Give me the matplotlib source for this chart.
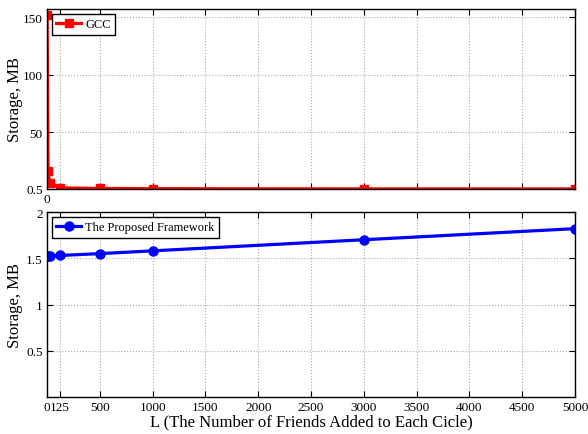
import matplotlib
matplotlib.use("Agg")
import matplotlib.pyplot as plt

plt.rcParams['font.family'] = ['Liberation Serif', 'DejaVu Serif']

L_gcc = [1, 10, 25, 125, 500, 1000, 3000, 5000]
gcc = [152, 16, 6, 1.5, 1.0, 0.8, 0.6, 0.55]
L_prop = [1, 10, 25, 125, 500, 1000, 3000, 5000]
prop = [1.52, 1.52, 1.525, 1.53, 1.55, 1.58, 1.70, 1.82]

xticks = [0, 125, 500, 1000, 1500, 2000, 2500, 3000, 3500, 4000, 4500, 5000]
xticklabels = ['0', '125', '500', '1000', '1500', '2000', '2500', '3000', '3500', '4000', '4500', '5000']
top_yticks = [0.5, 50, 100, 150]
bot_yticks = [0.5, 1, 1.5, 2]

W, H = 588, 435
fig = plt.figure(figsize=(W/100, H/100), dpi=100)
ax1 = fig.add_axes([47/W, 1-190/H, (575-47)/W, (190-10)/H])
ax2 = fig.add_axes([47/W, 1-398/H, (575-47)/W, (398-213)/H])

ax1.plot(L_gcc, gcc, '-s', color='red', lw=2.3, ms=5.5, label='GCC')
ax2.plot(L_prop, prop, '-o', color='blue', lw=2.3, ms=6.5, label='The Proposed Framework')

for ax in (ax1, ax2):
    ax.set_xlim(0, 5000)
    ax.set_xticks(xticks)
    ax.grid(True, linestyle=':', color='#aaaaaa', lw=0.8)
    ax.tick_params(direction='in', top=True, right=True, labelsize=9.5, length=4, width=0.8, pad=3)
    for s in ax.spines.values():
        s.set_linewidth(1.0)
    ax.set_ylabel('Storage, MB', fontsize=12)
    leg = ax.legend(loc='upper left', fancybox=False, edgecolor='black', fontsize=9,
                    handlelength=2.0, borderpad=0.35, handletextpad=0.3, framealpha=1,
                    borderaxespad=0.4)
    leg.get_frame().set_linewidth(1.0)

ax1.set_ylim(0.5, 157)
ax1.set_yticks(top_yticks)
ax1.set_yticklabels(['0.5', '50', '100', '150'])
ax1.set_xticklabels(['0'] + [''] * (len(xticks) - 1))

ax2.set_ylim(0, 2)
ax2.set_yticks(bot_yticks)
ax2.set_yticklabels(['0.5', '1', '1.5', '2'])
ax2.set_xticklabels(xticklabels)
ax2.set_xlabel('L (The Number of Friends Added to Each Cicle)', fontsize=12, labelpad=0)

ax1.yaxis.set_label_coords(-0.045, 0.5)
ax2.yaxis.set_label_coords(-0.045, 0.5)

fig.savefig('out.png', dpi=100)
